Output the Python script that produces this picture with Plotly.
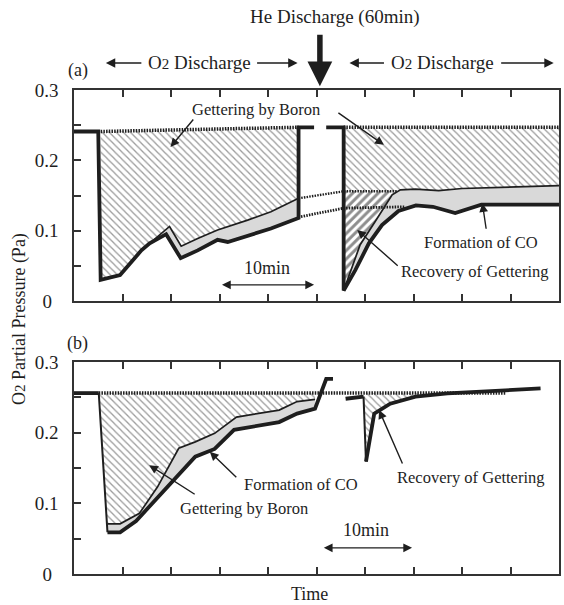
import plotly.graph_objects as go

# ---------------- data (x in 5-min time units, y in Pa) ----------------
# Panel (a)
a_base1_x = [0.55, 4.63]
a_base1_y = [0.241, 0.247]
a_base2_x = [5.56, 10.0]
a_base2_y = [0.247, 0.247]

a_meas1_x = [0.0, 0.50, 0.55, 0.95, 1.39, 1.56, 1.90, 2.20, 2.55, 2.96, 3.17, 3.65, 4.06, 4.63, 4.63, 4.95]
a_meas1_y = [0.241, 0.241, 0.030, 0.037, 0.072, 0.082, 0.095, 0.061, 0.072, 0.087, 0.084, 0.094, 0.103, 0.118, 0.247, 0.247]
a_thin1_x = [1.56, 1.97, 2.21, 2.55, 2.96, 3.58, 4.06, 4.63]
a_thin1_y = [0.082, 0.106, 0.078, 0.089, 0.101, 0.115, 0.127, 0.146]

a_meas2_x = [5.20, 5.56, 5.56, 5.80, 6.08, 6.35, 6.69, 7.05, 7.40, 7.86, 8.40, 10.0]
a_meas2_y = [0.247, 0.247, 0.015, 0.044, 0.082, 0.108, 0.128, 0.136, 0.134, 0.125, 0.137, 0.137]
a_thin2_x = [5.56, 5.90, 6.21, 6.56, 6.73, 7.04, 7.52, 8.00, 10.0]
a_thin2_y = [0.015, 0.080, 0.113, 0.151, 0.158, 0.159, 0.157, 0.160, 0.164]

a_link1_x = [4.63, 5.56, 6.66]
a_link1_y = [0.146, 0.156, 0.156]
a_link2_x = [4.68, 5.56, 6.83]
a_link2_y = [0.120, 0.132, 0.134]

# Panel (b)
b_base_x = [0.51, 8.90]
b_base_y = [0.256, 0.256]
b_meas1_x = [0.0, 0.51, 0.69, 0.95, 1.28, 1.70, 2.13, 2.50, 2.90, 3.30, 4.23, 4.60, 4.97, 5.20, 5.34]
b_meas1_y = [0.256, 0.256, 0.059, 0.059, 0.075, 0.107, 0.139, 0.166, 0.177, 0.204, 0.215, 0.227, 0.234, 0.276, 0.276]
b_thin1_x = [0.69, 0.95, 1.35, 1.72, 2.16, 2.50, 2.90, 3.35, 4.23, 4.60, 4.97]
b_thin1_y = [0.071, 0.071, 0.086, 0.123, 0.178, 0.187, 0.199, 0.222, 0.232, 0.244, 0.247]
b_meas2_x = [5.60, 5.97, 6.02, 6.19, 6.52, 7.04, 7.70, 8.81, 9.62]
b_meas2_y = [0.248, 0.251, 0.159, 0.227, 0.241, 0.251, 0.2556, 0.259, 0.2626]

x_ticks = [1, 2, 3, 4, 5, 6, 7, 8, 9]
y_ticks = [0, 0.05, 0.1, 0.15, 0.2, 0.25, 0.3]
y_ticktext = ["0\u2004", "", "0.1", "", "0.2", "", "0.3"]

# ---------------- styles ----------------
INK = "#1e1e1e"
GRAY = "#d9d9d9"
FONT = "Liberation Serif"
HATCH = dict(shape="\\", size=5, solidity=0.26, fgcolor="#3a3a3a", bgcolor="white")
DENSE = dict(shape="/", size=6, solidity=0.5, fgcolor="#1e1e1e", bgcolor="white")
DOT = "1.5px,1.2px"

fig = go.Figure()


def poly(xs, ys, xa, ya, color=None, pattern=None):
    kw = dict(x=xs, y=ys, mode="none", fill="toself", xaxis=xa, yaxis=ya,
              hoverinfo="skip", showlegend=False)
    if pattern is not None:
        kw["fillpattern"] = pattern
        kw["fillcolor"] = "white"
    else:
        kw["fillcolor"] = color
    fig.add_trace(go.Scatter(**kw))


def line(xs, ys, xa, ya, width, dash="solid", color=INK):
    fig.add_trace(go.Scatter(x=xs, y=ys, mode="lines", xaxis=xa, yaxis=ya,
                             line=dict(color=color, width=width, dash=dash),
                             hoverinfo="skip", showlegend=False))


# ---- panel (a) fills
low_x = a_meas1_x[2:6] + a_thin1_x[1:]
low_y = a_meas1_y[2:6] + a_thin1_y[1:]
poly(a_base1_x + low_x[::-1], a_base1_y + low_y[::-1], "x", "y", pattern=HATCH)
poly(a_thin1_x + a_meas1_x[5:14][::-1], a_thin1_y + a_meas1_y[5:14][::-1], "x", "y", color=GRAY)

poly(a_base2_x + a_thin2_x[4:][::-1] + a_link1_x[2:0:-1],
     a_base2_y + a_thin2_y[4:][::-1] + a_link1_y[2:0:-1], "x", "y", pattern=HATCH)
poly(a_thin2_x + a_meas2_x[2:][::-1], a_thin2_y + a_meas2_y[2:][::-1], "x", "y", color=GRAY)
poly([a_link1_x[1]] + a_thin2_x[:4] + [a_link1_x[2]],
     [a_link1_y[1]] + a_thin2_y[:4] + [a_link1_y[2]], "x", "y", pattern=DENSE)

# ---- panel (a) lines
line(a_base1_x, a_base1_y, "x", "y", 3.5, dash=DOT)
line(a_base2_x, a_base2_y, "x", "y", 3.5, dash=DOT)
line(a_link1_x, a_link1_y, "x", "y", 2.4, dash=DOT)
line(a_link2_x, a_link2_y, "x", "y", 2.8, dash=DOT)
line(a_thin1_x, a_thin1_y, "x", "y", 1.7)
line(a_thin2_x, a_thin2_y, "x", "y", 1.7)
line(a_meas1_x, a_meas1_y, "x", "y", 3.8)
line(a_meas2_x, a_meas2_y, "x", "y", 3.8)

# ---- panel (b) fills
poly(b_base_x[:1] + [b_thin1_x[-1]] + b_thin1_x[::-1],
     b_base_y[:1] + [b_base_y[0]] + b_thin1_y[::-1], "x2", "y2", pattern=HATCH)
poly(b_thin1_x + b_meas1_x[2:13][::-1], b_thin1_y + b_meas1_y[2:13][::-1], "x2", "y2", color=GRAY)
poly([b_meas2_x[1]] + b_meas2_x[1:7], [b_base_y[0]] + b_meas2_y[1:7], "x2", "y2", pattern=HATCH)

# ---- panel (b) lines
line(b_base_x, b_base_y, "x2", "y2", 3.5, dash=DOT)
line(b_thin1_x, b_thin1_y, "x2", "y2", 1.7)
line(b_meas1_x[:2], b_meas1_y[:2], "x2", "y2", 3.8)
line(b_meas1_x[1:3], b_meas1_y[1:3], "x2", "y2", 2.0)
line(b_meas1_x[2:], b_meas1_y[2:], "x2", "y2", 3.8)
line(b_meas2_x[:2], b_meas2_y[:2], "x2", "y2", 3.8)
line(b_meas2_x[1:3], b_meas2_y[1:3], "x2", "y2", 2.0)
line(b_meas2_x[2:], b_meas2_y[2:], "x2", "y2", 3.8)

# ---------------- axes ----------------
xax = dict(range=[0, 10], tickvals=x_ticks, showticklabels=False, ticks="inside",
           ticklen=7, tickwidth=1.5, tickcolor="#333", mirror="ticks", showline=True,
           linewidth=1.5, linecolor="#333", showgrid=False, zeroline=False, fixedrange=True)
yax = dict(range=[0, 0.3], tickvals=y_ticks, ticktext=y_ticktext, ticks="inside",
           ticklen=7, tickwidth=1.5, tickcolor="#333", mirror=True, showline=True,
           linewidth=1.5, linecolor="#333", showgrid=False, zeroline=False,
           tickfont=dict(family=FONT, size=19, color=INK), ticklabelstandoff=10,
           fixedrange=True)

fig.update_layout(
    width=564, height=605,
    margin=dict(l=74, r=3, t=90, b=31),
    paper_bgcolor="white", plot_bgcolor="white",
    showlegend=False,
    xaxis=dict(xax, domain=[0, 1], anchor="y"),
    yaxis=dict(yax, domain=[0.564, 1], anchor="x"),
    xaxis2=dict(xax, domain=[0, 1], anchor="y2"),
    yaxis2=dict(yax, domain=[0, 0.438], anchor="x2"),
)

ann = []
TF = dict(family=FONT, size=16.5, color=INK)
BF = dict(family=FONT, size=19, color=INK)


def text(t, x, y, xref, yref, font, **kw):
    ann.append(dict(text=t, x=x, y=y, xref=xref, yref=yref, showarrow=False,
                    font=font, xanchor="center", yanchor="middle", **kw))


def arrow(x, y, ax, ay, xref, yref, width=1.4, head=2, size=1.25, side="end", axref="pixel", ayref="pixel"):
    ann.append(dict(text="", x=x, y=y, ax=ax, ay=ay, xref=xref, yref=yref,
                    axref=axref, ayref=ayref, showarrow=True, arrowhead=head,
                    arrowsize=size, arrowwidth=width, arrowcolor=INK, arrowside=side,
                    startarrowhead=head, startarrowsize=size))


O2 = "O<span style='font-size:15px'>2</span> Discharge"
# header
text("He Discharge (60min)", 0.538, 1.151, "paper", "paper", BF)
arrow(0.507, 1.008, 0, -53, "paper", "paper", width=5.5, head=2, size=0.9)
text("(a)", 0.008, 1.041, "paper", "paper", dict(family=FONT, size=18, color=INK))
text("(b)", 0.008, 0.477, "paper", "paper", dict(family=FONT, size=18, color=INK))
text(O2, 0.2587, 1.0558, "paper", "paper", BF)
text(O2, 0.760, 1.0558, "paper", "paper", BF)
arrow(0.0657, 1.0558, 37, 0, "paper", "paper", width=1.5)
arrow(0.461, 1.0558, -42, 0, "paper", "paper", width=1.5)
arrow(0.568, 1.0558, 36, 0, "paper", "paper", width=1.5)
arrow(0.989, 1.0558, -54, 0, "paper", "paper", width=1.5)
# axis titles
text("O<span style='font-size:15px'>2</span> Partial Pressure (Pa)", -0.111, 0.527, "paper", "paper",
     dict(family=FONT, size=18, color=INK), textangle=-90)
text("Time", 0.485, -0.041, "paper", "paper", dict(family=FONT, size=18, color=INK))

# panel (a) labels
text("Gettering by Boron", 3.76, 0.272, "x", "y", TF)
arrow(1.99, 0.219, 24, -29, "x", "y")
arrow(6.39, 0.222, -47, -33, "x", "y")
text("Formation of CO", 8.40, 0.0825, "x", "y", TF)
arrow(8.42, 0.139, 4, 27, "x", "y")
text("Recovery of Gettering", 8.26, 0.0425, "x", "y", TF)
arrow(5.84, 0.101, 42, 37, "x", "y")
text("10min", 3.98, 0.047, "x", "y", dict(family=FONT, size=18, color=INK))
arrow(4.95, 0.023, 3.02, 0.023, "x", "y", side="end+start", axref="x", ayref="y")

# panel (b) labels
text("Formation of CO", 4.67, 0.126, "x2", "y2", TF)
arrow(2.80, 0.173, 28, 27, "x2", "y2")
text("Gettering by Boron", 3.50, 0.093, "x2", "y2", TF)
arrow(1.55, 0.154, 47, 30, "x2", "y2")
text("Recovery of Gettering", 8.18, 0.137, "x2", "y2", TF)
arrow(6.29, 0.232, 24, 55, "x2", "y2")
text("10min", 6.03, 0.062, "x2", "y2", dict(family=FONT, size=18, color=INK))
arrow(6.97, 0.037, 5.12, 0.037, "x2", "y2", side="end+start", axref="x2", ayref="y2")

fig.update_layout(annotations=ann)
fig.write_html("out.html")
